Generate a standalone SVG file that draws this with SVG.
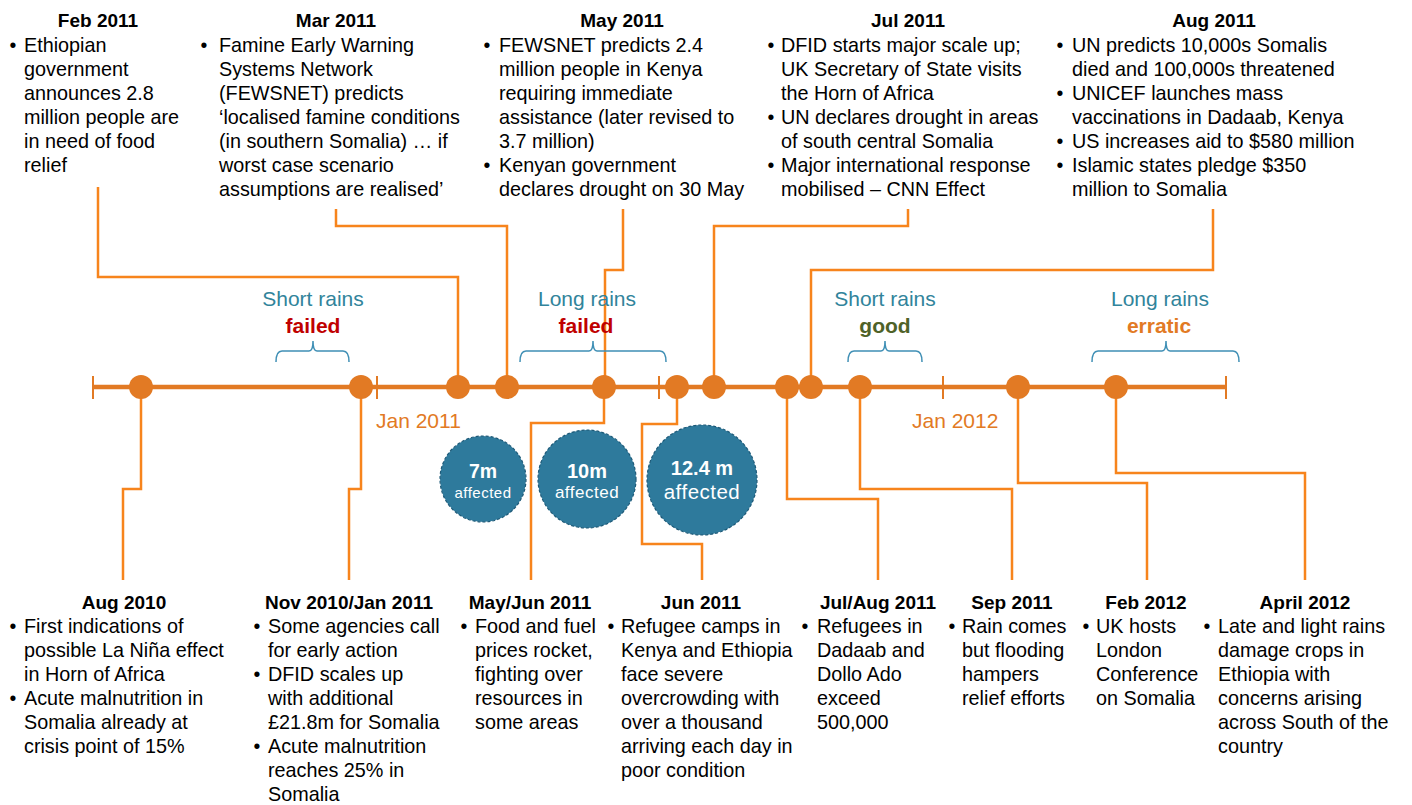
<svg xmlns="http://www.w3.org/2000/svg" width="1412" height="805" viewBox="0 0 1412 805">
<style>
.hd{font-family:"Liberation Sans",Arial,sans-serif;font-weight:bold;font-size:19px;fill:#000;text-anchor:middle}
.bd{font-family:"Liberation Sans",Arial,sans-serif;font-size:19.8px;fill:#000}
.bu{font-family:"Liberation Sans",Arial,sans-serif;font-size:19.5px;fill:#000;text-anchor:middle}
.conn{fill:none;stroke:#F7841C;stroke-width:2.5}
.tl{stroke:#E27A24;stroke-width:4.3}
.tick{stroke:#E27A24;stroke-width:2}
.dot{fill:#E27A24}
.rain{font-family:"Liberation Sans",Arial,sans-serif;font-size:21px;fill:#31849B;text-anchor:middle}
.st{font-family:"Liberation Sans",Arial,sans-serif;font-size:21px;font-weight:bold;text-anchor:middle}
.brace{fill:none;stroke:#3F8FB5;stroke-width:1.5}
.jan{font-family:"Liberation Sans",Arial,sans-serif;font-size:21px;fill:#E27A24}
.bub{fill:#2E7A9C;stroke:#1E5A78;stroke-width:1.2;stroke-dasharray:3 2}
.bn{font-family:"Liberation Sans",Arial,sans-serif;font-weight:bold;fill:#fff;text-anchor:middle}
.ba{font-family:"Liberation Sans",Arial,sans-serif;fill:#fff;text-anchor:middle;letter-spacing:0.5px}
</style>

<g id="connectors">
<path class="conn" d="M98,187 V277 H458 V387"/>
<path class="conn" d="M336,209 V226 H507 V387"/>
<path class="conn" d="M623,209 V270 H605 V387"/>
<path class="conn" d="M908,209 V226 H714 V387"/>
<path class="conn" d="M1213,209 V270 H811 V387"/>
<path class="conn" d="M141,387 V489 H123 V580"/>
<path class="conn" d="M361,387 V489 H349 V580"/>
<path class="conn" d="M604,387 V423 H531 V580"/>
<path class="conn" d="M677,387 V424 H642 V544 H702 V580"/>
<path class="conn" d="M787,387 V499 H878 V580"/>
<path class="conn" d="M860,387 V489 H1012 V580"/>
<path class="conn" d="M1018,387 V483 H1147 V580"/>
<path class="conn" d="M1116,387 V473 H1305 V580"/>
</g>

<g id="timeline">
<line class="tl" x1="93" y1="387" x2="1226" y2="387"/>
<line class="tick" x1="93" y1="376" x2="93" y2="399"/>
<line class="tick" x1="377" y1="376" x2="377" y2="399"/>
<line class="tick" x1="659" y1="376" x2="659" y2="399"/>
<line class="tick" x1="943" y1="376" x2="943" y2="399"/>
<line class="tick" x1="1226" y1="376" x2="1226" y2="399"/>
<text class="jan" x="376" y="428">Jan 2011</text>
<text class="jan" x="912" y="428">Jan 2012</text>
</g>

<g id="rains-short-2010">
<text class="rain" x="313" y="306">Short rains</text>
<text class="st" x="313" y="333" fill="#C00000">failed</text>
<path class="brace" d="M276,362 Q276,351 282,351 H309 Q313,351 313,341 Q313,351 317,351 H343 Q349,351 349,362"/>
</g>
<g id="rains-long-2011">
<text class="rain" x="587" y="306">Long rains</text>
<text class="st" x="586" y="333" fill="#C00000">failed</text>
<path class="brace" d="M520,362 Q520,351 526,351 H589 Q593,351 593,341 Q593,351 597,351 H660 Q666,351 666,362"/>
</g>
<g id="rains-short-2011">
<text class="rain" x="885" y="306">Short rains</text>
<text class="st" x="885" y="333" fill="#4F6228">good</text>
<path class="brace" d="M848,362 Q848,351 854,351 H881 Q885,351 885,341 Q885,351 889,351 H916 Q922,351 922,362"/>
</g>
<g id="rains-long-2012">
<text class="rain" x="1160" y="306">Long rains</text>
<text class="st" x="1159" y="333" fill="#E27A24">erratic</text>
<path class="brace" d="M1092,362 Q1092,351 1098,351 H1162 Q1166,351 1166,341 Q1166,351 1170,351 H1233 Q1239,351 1239,362"/>
</g>

<g id="bubble-7m">
<circle class="bub" cx="483" cy="479" r="43"/>
<text class="bn" x="483" y="478" font-size="19.5px">7m</text>
<text class="ba" x="483" y="498" font-size="15px">affected</text>
</g>
<g id="bubble-10m">
<circle class="bub" cx="587" cy="479" r="49"/>
<text class="bn" x="587" y="478" font-size="20px">10m</text>
<text class="ba" x="587" y="498" font-size="17px">affected</text>
</g>
<g id="bubble-12m">
<circle class="bub" cx="702" cy="480" r="55"/>
<text class="bn" x="702" y="475" font-size="20px">12.4 m</text>
<text class="ba" x="702" y="499" font-size="20.5px">affected</text>
</g>

<g id="ev-aug2010">
<circle class="dot" cx="141" cy="387" r="12"/>
<text class="hd" x="124" y="609">Aug 2010</text>
<text class="bu" x="13" y="633">•</text>
<text class="bu" x="13" y="705">•</text>
<text class="bd"><tspan x="24" y="633">First indications of</tspan><tspan x="24" y="657">possible La Niña effect</tspan><tspan x="24" y="681">in Horn of Africa</tspan><tspan x="24" y="705">Acute malnutrition in</tspan><tspan x="24" y="729">Somalia already at</tspan><tspan x="24" y="753">crisis point of 15%</tspan></text>
</g>

<g id="ev-nov2010">
<circle class="dot" cx="361" cy="387" r="12"/>
<text class="hd" x="349" y="609">Nov 2010/Jan 2011</text>
<text class="bu" x="257" y="633">•</text>
<text class="bu" x="257" y="681">•</text>
<text class="bu" x="257" y="753">•</text>
<text class="bd"><tspan x="268" y="633">Some agencies call</tspan><tspan x="268" y="657">for early action</tspan><tspan x="268" y="681">DFID scales up</tspan><tspan x="268" y="705">with additional</tspan><tspan x="268" y="729">£21.8m for Somalia</tspan><tspan x="268" y="753">Acute malnutrition</tspan><tspan x="268" y="777">reaches 25% in</tspan><tspan x="268" y="801">Somalia</tspan></text>
</g>

<g id="ev-feb2011">
<circle class="dot" cx="458" cy="387" r="12"/>
<text class="hd" x="98" y="27">Feb 2011</text>
<text class="bu" x="13" y="51.5">•</text>
<text class="bd"><tspan x="24" y="51.5">Ethiopian</tspan><tspan x="24" y="75.5">government</tspan><tspan x="24" y="99.5">announces 2.8</tspan><tspan x="24" y="123.5">million people are</tspan><tspan x="24" y="147.5">in need of food</tspan><tspan x="24" y="171.5">relief</tspan></text>
</g>

<g id="ev-mar2011">
<circle class="dot" cx="507" cy="387" r="12"/>
<text class="hd" x="336" y="27">Mar 2011</text>
<text class="bu" x="204" y="51.5">•</text>
<text class="bd"><tspan x="219" y="51.5">Famine Early Warning</tspan><tspan x="219" y="75.5">Systems Network</tspan><tspan x="219" y="99.5">(FEWSNET) predicts</tspan><tspan x="219" y="123.5">‘localised famine conditions</tspan><tspan x="219" y="147.5">(in southern Somalia) … if</tspan><tspan x="219" y="171.5">worst case scenario</tspan><tspan x="219" y="195.5">assumptions are realised’</tspan></text>
</g>

<g id="ev-may2011">
<circle class="dot" cx="604" cy="387" r="12"/>
<text class="hd" x="622" y="27">May 2011</text>
<text class="bu" x="487" y="51.5">•</text>
<text class="bu" x="487" y="171.5">•</text>
<text class="bd"><tspan x="499" y="51.5">FEWSNET predicts 2.4</tspan><tspan x="499" y="75.5">million people in Kenya</tspan><tspan x="499" y="99.5">requiring immediate</tspan><tspan x="499" y="123.5">assistance (later revised to</tspan><tspan x="499" y="147.5">3.7 million)</tspan><tspan x="499" y="171.5">Kenyan government</tspan><tspan x="499" y="195.5">declares drought on 30 May</tspan></text>
</g>

<g id="ev-mayjun2011">
<circle class="dot" cx="677" cy="387" r="12"/>
<text class="hd" x="530" y="609">May/Jun 2011</text>
<text class="bu" x="464" y="633">•</text>
<text class="bd"><tspan x="475" y="633">Food and fuel</tspan><tspan x="475" y="657">prices rocket,</tspan><tspan x="475" y="681">fighting over</tspan><tspan x="475" y="705">resources in</tspan><tspan x="475" y="729">some areas</tspan></text>
</g>

<g id="ev-jun2011">
<text class="hd" x="701" y="609">Jun 2011</text>
<text class="bu" x="611" y="633">•</text>
<text class="bd"><tspan x="621" y="633">Refugee camps in</tspan><tspan x="621" y="657">Kenya and Ethiopia</tspan><tspan x="621" y="681">face severe</tspan><tspan x="621" y="705">overcrowding with</tspan><tspan x="621" y="729">over a thousand</tspan><tspan x="621" y="753">arriving each day in</tspan><tspan x="621" y="777">poor condition</tspan></text>
</g>

<g id="ev-jul2011">
<circle class="dot" cx="714" cy="387" r="12"/>
<text class="hd" x="908" y="27">Jul 2011</text>
<text class="bu" x="771" y="51.5">•</text>
<text class="bu" x="771" y="123.5">•</text>
<text class="bu" x="771" y="171.5">•</text>
<text class="bd"><tspan x="781" y="51.5">DFID starts major scale up;</tspan><tspan x="781" y="75.5">UK Secretary of State visits</tspan><tspan x="781" y="99.5">the Horn of Africa</tspan><tspan x="781" y="123.5">UN declares drought in areas</tspan><tspan x="781" y="147.5">of south central Somalia</tspan><tspan x="781" y="171.5">Major international response</tspan><tspan x="781" y="195.5">mobilised – CNN Effect</tspan></text>
</g>

<g id="ev-julaug2011">
<circle class="dot" cx="787" cy="387" r="12"/>
<text class="hd" x="878" y="609">Jul/Aug 2011</text>
<text class="bu" x="805" y="633">•</text>
<text class="bd"><tspan x="817" y="633">Refugees in</tspan><tspan x="817" y="657">Dadaab and</tspan><tspan x="817" y="681">Dollo Ado</tspan><tspan x="817" y="705">exceed</tspan><tspan x="817" y="729">500,000</tspan></text>
</g>

<g id="ev-aug2011">
<circle class="dot" cx="811" cy="387" r="12"/>
<text class="hd" x="1214" y="27">Aug 2011</text>
<text class="bu" x="1060" y="51.5">•</text>
<text class="bu" x="1060" y="99.5">•</text>
<text class="bu" x="1060" y="147.5">•</text>
<text class="bu" x="1060" y="171.5">•</text>
<text class="bd"><tspan x="1072" y="51.5">UN predicts 10,000s Somalis</tspan><tspan x="1072" y="75.5">died and 100,000s threatened</tspan><tspan x="1072" y="99.5">UNICEF launches mass</tspan><tspan x="1072" y="123.5">vaccinations in Dadaab, Kenya</tspan><tspan x="1072" y="147.5">US increases aid to $580 million</tspan><tspan x="1072" y="171.5">Islamic states pledge $350</tspan><tspan x="1072" y="195.5">million to Somalia</tspan></text>
</g>

<g id="ev-sep2011">
<circle class="dot" cx="860" cy="387" r="12"/>
<text class="hd" x="1012" y="609">Sep 2011</text>
<text class="bu" x="952" y="633">•</text>
<text class="bd"><tspan x="962" y="633">Rain comes</tspan><tspan x="962" y="657">but flooding</tspan><tspan x="962" y="681">hampers</tspan><tspan x="962" y="705">relief efforts</tspan></text>
</g>

<g id="ev-feb2012">
<circle class="dot" cx="1018" cy="387" r="12"/>
<text class="hd" x="1146" y="609">Feb 2012</text>
<text class="bu" x="1086" y="633">•</text>
<text class="bd"><tspan x="1096" y="633">UK hosts</tspan><tspan x="1096" y="657">London</tspan><tspan x="1096" y="681">Conference</tspan><tspan x="1096" y="705">on Somalia</tspan></text>
</g>

<g id="ev-apr2012">
<circle class="dot" cx="1116" cy="387" r="12"/>
<text class="hd" x="1305" y="609">April 2012</text>
<text class="bu" x="1207" y="633">•</text>
<text class="bd"><tspan x="1218" y="633">Late and light rains</tspan><tspan x="1218" y="657">damage crops in</tspan><tspan x="1218" y="681">Ethiopia with</tspan><tspan x="1218" y="705">concerns arising</tspan><tspan x="1218" y="729">across South of the</tspan><tspan x="1218" y="753">country</tspan></text>
</g>
</svg>
